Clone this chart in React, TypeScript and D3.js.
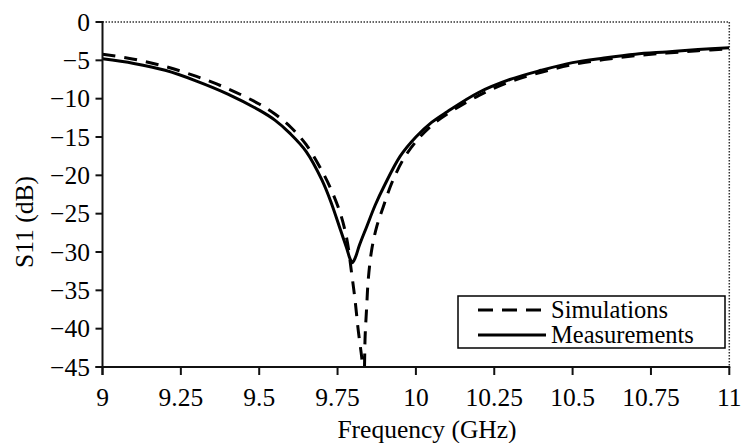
import React from "react";
import * as d3 from "d3";

const simFreq = [9, 9.1, 9.2, 9.3, 9.4, 9.5, 9.55, 9.6, 9.65, 9.7, 9.73, 9.76, 9.78, 9.795, 9.806, 9.816, 9.827, 9.834, 9.838, 9.843, 9.848, 9.859, 9.875, 9.896, 9.923, 9.96, 10, 10.05, 10.1, 10.2, 10.3, 10.4, 10.5, 10.6, 10.7, 10.8, 10.9, 11];
const simS11 = [-4.2, -4.85, -5.8, -7.1, -8.7, -10.7, -12.0, -13.7, -16.0, -19.4, -21.9, -25.1, -28.4, -32.8, -36.3, -40.2, -43.7, -46.5, -41, -37.1, -33.6, -29.7, -26.7, -24.1, -21.0, -17.9, -15.6, -13.5, -12.0, -9.6, -7.8, -6.55, -5.55, -4.9, -4.4, -4.05, -3.75, -3.5];

const measFreq = [9, 9.1, 9.2, 9.3, 9.4, 9.5, 9.55, 9.6, 9.65, 9.7, 9.73, 9.76, 9.78, 9.789, 9.797, 9.806, 9.82, 9.843, 9.87, 9.9, 9.95, 10, 10.05, 10.1, 10.2, 10.3, 10.4, 10.5, 10.6, 10.7, 10.8, 10.9, 11];
const measS11 = [-4.8, -5.4, -6.3, -7.7, -9.4, -11.5, -12.8, -14.6, -16.9, -20.6, -23.6, -27.2, -29.6, -30.8, -31.4, -30.8, -29.1, -26.7, -23.9, -21.3, -17.5, -15.0, -13.1, -11.7, -9.2, -7.5, -6.3, -5.3, -4.7, -4.2, -3.9, -3.6, -3.35];

const xTicks = [9, 9.25, 9.5, 9.75, 10, 10.25, 10.5, 10.75, 11];
const xTickLabels = ["9", "9.25", "9.5", "9.75", "10", "10.25", "10.5", "10.75", "11"];
const yTicks = [0, -5, -10, -15, -20, -25, -30, -35, -40, -45];
const yTickLabels = ["0", "\u22125", "\u221210", "\u221215", "\u221220", "\u221225", "\u221230", "\u221235", "\u221240", "\u221245"];
const seriesNames = ["Simulations", "Measurements"];
const xTitle = "Frequency (GHz)";
const yTitle = "S11 (dB)";

export default function App() {
  const W = 744, H = 443;
  const x = d3.scaleLinear().domain([9, 11]).range([102.5, 729.3]);
  const y = d3.scaleLinear().domain([0, -45]).range([22, 367]);
  const font = "'Liberation Serif', 'Times New Roman', serif";
  const fs = 25.5;

  const line = d3
    .line<[number, number]>()
    .x((d) => x(d[0]))
    .y((d) => y(d[1]))
    .curve(d3.curveCatmullRom.alpha(0.5));

  const simPts = simFreq.map((f, i) => [f, simS11[i]] as [number, number]);
  const measPts = measFreq.map((f, i) => [f, measS11[i]] as [number, number]);

  const [x0, x1] = x.range();
  const [y0, y1] = y.range();

  return (
    <svg
      width={W}
      height={H}
      style={{ position: "fixed", left: 0, top: 0, background: "#fff" }}
      fontFamily={font}
    >
      <defs>
        <clipPath id="plotclip">
          <rect x={x0} y={y0} width={x1 - x0} height={y1 - y0} />
        </clipPath>
      </defs>
      {/* top & right dotted frame */}
      <line x1={x0} x2={x1} y1={y0} y2={y0} stroke="#333" strokeWidth={1.5} strokeDasharray="1.5 1.5" />
      <line x1={x1} x2={x1} y1={y0} y2={y1} stroke="#333" strokeWidth={1.5} strokeDasharray="1.5 1.5" />

      {/* curves */}
      <g clipPath="url(#plotclip)">
        <path d={line(simPts) || ""} fill="none" stroke="#000" strokeWidth={3} strokeDasharray="13 9" />
        <path d={line(measPts) || ""} fill="none" stroke="#000" strokeWidth={3} strokeLinejoin="round" />
      </g>

      {/* left axis */}
      <line x1={x0} x2={x0} y1={y0 - 1} y2={y1 + 8} stroke="#111" strokeWidth={2} />
      {yTicks.map((t, i) => (
        <g key={"y" + t}>
          <line x1={x0 - 7} x2={x0} y1={y(t)} y2={y(t)} stroke="#111" strokeWidth={2} />
          <text x={90} y={y(t) + 8.5} textAnchor="end" fontSize={fs} fill="#000">
            {yTickLabels[i]}
          </text>
        </g>
      ))}

      {/* bottom axis */}
      <line x1={x0 - 7} x2={x1 + 1} y1={y1} y2={y1} stroke="#111" strokeWidth={2} />
      {xTicks.map((t, i) => (
        <g key={"x" + t}>
          <line x1={x(t)} x2={x(t)} y1={y1} y2={y1 + 8} stroke="#111" strokeWidth={2} />
          <text x={x(t)} y={406} textAnchor="middle" fontSize={fs} fill="#000">
            {xTickLabels[i]}
          </text>
        </g>
      ))}

      {/* titles */}
      <text x={427} y={438} textAnchor="middle" fontSize={fs} fill="#000">
        {xTitle}
      </text>
      <text
        transform={`translate(33, ${222}) rotate(-90)`}
        textAnchor="middle"
        fontSize={fs}
        fill="#000"
      >
        {yTitle}
      </text>

      {/* legend */}
      <rect x={458} y={296} width={267} height={52} fill="#fff" stroke="#000" strokeWidth={1.5} />
      <line x1={478} x2={546} y1={310} y2={310} stroke="#000" strokeWidth={3} strokeDasharray="15 9" />
      <text x={551} y={318} fontSize={24.5} fill="#000">{seriesNames[0]}</text>
      <line x1={478} x2={546} y1={335} y2={335} stroke="#000" strokeWidth={3} />
      <text x={551} y={343} fontSize={24.5} fill="#000">{seriesNames[1]}</text>
    </svg>
  );
}
